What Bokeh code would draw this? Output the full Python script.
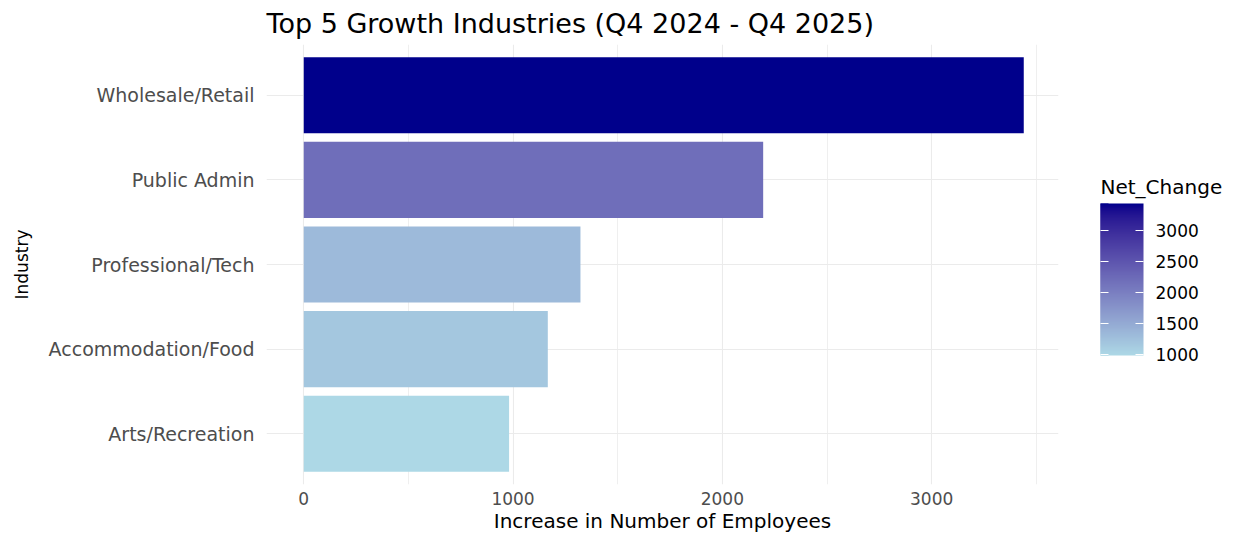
import numpy as np
from bokeh.plotting import figure
from bokeh.layouts import row
from bokeh.models import (ColumnDataSource, LinearColorMapper, ColorBar, FixedTicker,
                          Range1d, FactorRange, Label)
from bokeh.transform import transform
from bokeh.embed import file_html
from bokeh.resources import INLINE

# ---------------- data ----------------
industries = ["Wholesale/Retail", "Public Admin", "Professional/Tech",
              "Accommodation/Food", "Arts/Recreation"]
net_change = [3440, 2195, 1322, 1166, 981]
x_ticks = [0, 1000, 2000, 3000]
x_minor_ticks = [500, 1500, 2500, 3500]
legend_ticks = [1000, 1500, 2000, 2500, 3000]
title_text = "Top 5 Growth Industries (Q4 2024 - Q4 2025)"
x_title = "Increase in Number of Employees"
y_title = "Industry"
legend_title = "Net_Change"

FONT = "DejaVu Sans"

# ------------- lab gradient lightblue -> darkblue (like ggplot) -------------
M = np.array([[0.4124564, 0.3575761, 0.1804375],
              [0.2126729, 0.7151522, 0.0721750],
              [0.0193339, 0.1191920, 0.9503041]])
MI = np.linalg.inv(M)
WHITE = M @ np.ones(3)


def _f(t):
    d = 6 / 29
    return np.where(t > d ** 3, np.cbrt(t), t / (3 * d * d) + 4 / 29)


def _finv(t):
    d = 6 / 29
    return np.where(t > d, t ** 3, 3 * d * d * (t - 4 / 29))


def rgb_to_lab(rgb):
    c = np.array(rgb, float) / 255
    lin = np.where(c <= 0.04045, c / 12.92, ((c + 0.055) / 1.055) ** 2.4)
    fx, fy, fz = _f((M @ lin) / WHITE)
    return np.array([116 * fy - 16, 500 * (fx - fy), 200 * (fy - fz)])


def lab_to_hex(lab):
    L, a, b = lab
    fy = (L + 16) / 116
    fx = fy + a / 500
    fz = fy - b / 200
    xyz = np.array([_finv(fx), _finv(fy), _finv(fz)]) * WHITE
    lin = np.clip(MI @ xyz, 0, 1)
    s = np.where(lin <= 0.0031308, 12.92 * lin, 1.055 * lin ** (1 / 2.4) - 0.055)
    s = np.clip(s, 0, 1) * 255
    return "#%02x%02x%02x" % tuple(int(round(v)) for v in s)


lab_lo = rgb_to_lab((173, 216, 230))   # lightblue
lab_hi = rgb_to_lab((0, 0, 139))       # darkblue
palette = [lab_to_hex(lab_lo + t * (lab_hi - lab_lo)) for t in np.linspace(0, 1, 256)]

mapper = LinearColorMapper(palette=palette, low=min(net_change), high=max(net_change))

src = ColumnDataSource(dict(industry=industries, net=net_change))

TOP, BOTTOM = 43, 46

# ---------------- main plot ----------------
p = figure(width=1080, height=535,
           y_range=FactorRange(*industries[::-1], range_padding=0.1,
                               range_padding_units="absolute"),
           x_range=Range1d(-178, 3606),
           output_backend="svg", toolbar_location=None,
           min_border_left=266, min_border_right=22,
           min_border_top=TOP, min_border_bottom=BOTTOM,
           title=title_text)

p.hbar(y="industry", left=0, right="net", height=0.9, source=src,
       fill_color=transform("net", mapper), line_color=None)

p.outline_line_color = None
p.background_fill_color = "white"
p.border_fill_color = "white"

# title
p.title.text_font = FONT
p.title.text_font_size = "27px"
p.title.text_font_style = "normal"
p.title.text_color = "black"
p.title.align = "left"
p.title.standoff = 11

# x axis
p.xaxis.ticker = FixedTicker(ticks=x_ticks, minor_ticks=x_minor_ticks)
p.xaxis.axis_line_color = None
p.xaxis.major_tick_line_color = None
p.xaxis.minor_tick_line_color = None
p.xaxis.major_tick_out = 0
p.xaxis.major_tick_in = 0
p.xaxis.major_label_standoff = 3
p.xaxis.major_label_text_font = FONT
p.xaxis.major_label_text_font_size = "17px"
p.xaxis.major_label_text_color = "#4D4D4D"
p.xaxis.axis_label = x_title
p.xaxis.axis_label_text_font = FONT
p.xaxis.axis_label_text_font_size = "20px"
p.xaxis.axis_label_text_font_style = "normal"
p.xaxis.axis_label_text_color = "black"
p.xaxis.axis_label_standoff = 1

# y axis
p.yaxis.axis_line_color = None
p.yaxis.major_tick_line_color = None
p.yaxis.major_tick_out = 0
p.yaxis.major_tick_in = 0
p.yaxis.major_label_standoff = 12
p.yaxis.major_label_text_font = FONT
p.yaxis.major_label_text_font_size = "19px"
p.yaxis.major_label_text_color = "#4D4D4D"
p.yaxis.axis_label = y_title
p.yaxis.axis_label_text_font = FONT
p.yaxis.axis_label_text_font_size = "17px"
p.yaxis.axis_label_text_font_style = "normal"
p.yaxis.axis_label_text_color = "black"
p.yaxis.axis_label_standoff = 14

# grid
p.xgrid.grid_line_color = "#EBEBEB"
p.xgrid.grid_line_width = 1.1
p.xgrid.minor_grid_line_color = "#EBEBEB"
p.xgrid.minor_grid_line_width = 0.8
p.ygrid.grid_line_color = "#EBEBEB"
p.ygrid.grid_line_width = 1.1

# ---------------- legend panel (colour bar) ----------------
p2 = figure(width=180, height=535, output_backend="svg", toolbar_location=None,
            x_range=Range1d(0, 1), y_range=Range1d(0, 1),
            x_axis_type=None, y_axis_type=None,
            min_border_left=20, min_border_top=TOP,
            min_border_right=0, min_border_bottom=BOTTOM)
p2.grid.visible = False
p2.outline_line_color = None
p2.background_fill_color = "white"
p2.border_fill_color = "white"

# legend title (screen units, measured up from the frame bottom)
p2.add_layout(Label(x=0, y=298, x_units="screen", y_units="screen",
                    text=legend_title, text_font=FONT, text_font_size="20px",
                    text_color="black", text_align="left",
                    text_baseline="alphabetic"))

cb_common = dict(color_mapper=mapper, ticker=FixedTicker(ticks=legend_ticks),
                 height=152, title=None,
                 major_label_text_font=FONT, major_label_text_font_size="17px",
                 label_standoff=12,
                 major_tick_line_color="white", major_tick_line_width=1.2,
                 major_tick_out=0,
                 minor_tick_line_color=None, bar_line_color=None,
                 border_line_color=None, background_fill_color=None,
                 padding=0, margin=0, location=(0, 129))

cb = ColorBar(width=43, major_tick_in=8, major_label_text_color="black", **cb_common)
p2.add_layout(cb, "center")
# narrow overlay strip that repeats the colours so ticks also show at the left edge
cb_left = ColorBar(width=8, major_tick_in=8, major_label_text_color=None, **cb_common)
p2.add_layout(cb_left, "center")

layout = row(p, p2, spacing=0)

open("out.html", "w").write(file_html(layout, INLINE))
